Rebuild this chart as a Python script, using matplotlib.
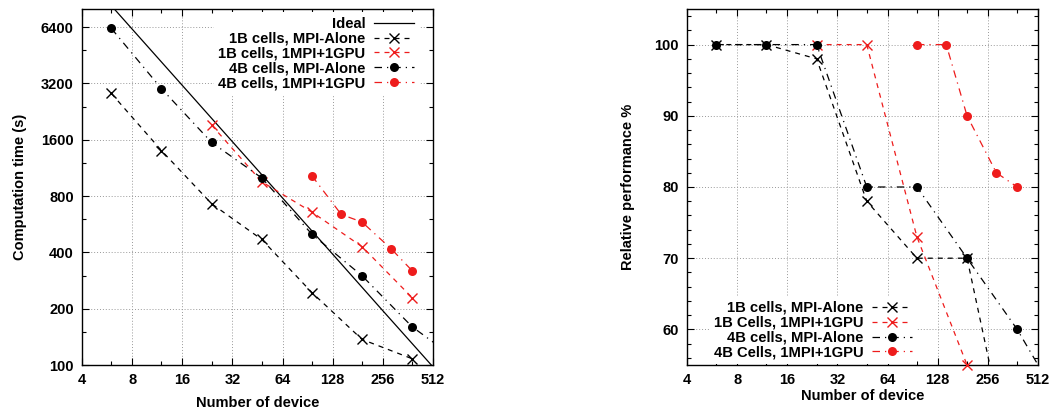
import numpy as np
import matplotlib
matplotlib.use("Agg")
import matplotlib.pyplot as plt
from matplotlib.ticker import FixedLocator, NullFormatter

plt.rcParams['font.family'] = ['Liberation Sans', 'DejaVu Sans']
plt.rcParams['font.weight'] = 'bold'
plt.rcParams['font.size'] = 10

# ---------------- data ----------------
xticks = [4, 8, 16, 32, 64, 128, 256, 512]

# left: computation time (s)
ideal_x = [4, 8, 16, 32, 64, 128, 256, 512]
ideal_y = [12500, 6250, 3125, 1562, 781, 391, 195, 97.7]

mpi1b_x = [6, 12, 24, 48, 96, 192, 384]
mpi1b_t = [2830, 1400, 728, 469, 244, 137, 108]

gpu1b_x = [24, 48, 96, 192, 384]
gpu1b_t = [1916, 954, 657, 429, 229]

mpi4b_x = [6, 12, 24, 48, 96, 192, 384, 768]
mpi4b_t = [6300, 3000, 1548, 1000, 500, 300, 160, 102]

gpu4b_x = [96, 144, 192, 288, 384]
gpu4b_t = [1027, 638, 581, 417, 319]

# right: relative performance %
mpi1b_p = [100, 100, 98, 78, 70, 70, 37]
gpu1b_p = [100, 100, 73, 55, 52]
mpi4b_p = [100, 100, 100, 80, 80, 70, 60, 48]
gpu4b_p = [100, 100, 90, 82, 80]

RED = '#ee1c1c'
DASH = (0, (4, 4))
DASHDOT = (0, (6, 4, 1, 4))

styles = {
  'mpi1b': dict(color='black', ls=DASH, marker='x', ms=6.5, mew=1.0),
  'gpu1b': dict(color=RED, ls=DASH, marker='x', ms=6.5, mew=1.0),
  'mpi4b': dict(color='black', ls=DASHDOT, marker='o', ms=6.5, mew=0),
  'gpu4b': dict(color=RED, ls=DASHDOT, marker='o', ms=6.5, mew=0),
}

def series(ax, x, y, st, label, ylim):
  """ line clipped at the border, markers drawn whole when inside the range """
  ax.plot(x, y, color=st['color'], ls=st['ls'], lw=0.9)
  xs = [a for a, b in zip(x, y) if a <= 512 and ylim[0] <= b <= ylim[1]]
  ys = [b for a, b in zip(x, y) if a <= 512 and ylim[0] <= b <= ylim[1]]
  ax.plot(xs, ys, ls='none', marker=st['marker'], ms=st['ms'], mew=st['mew'],
          color=st['color'], clip_on=False, zorder=4)
  # proxy for the legend
  h, = ax.plot([], [], color=st['color'], ls=st['ls'], lw=0.9, marker=st['marker'],
               ms=st['ms'], mew=st['mew'], label=label)
  return h

def style_axes(ax):
  ax.set_xscale('log', base=2)
  ax.set_xlim(4, 512)
  ax.xaxis.set_major_locator(FixedLocator(xticks))
  ax.xaxis.set_minor_locator(FixedLocator([t * 1.5 for t in xticks[:-1]]))
  ax.set_xticklabels([str(t) for t in xticks])
  ax.xaxis.set_minor_formatter(NullFormatter())
  ax.tick_params(which='both', direction='in', top=True, right=True, labelsize=10.5)
  ax.tick_params(which='major', length=5, width=0.8, pad=6)
  ax.tick_params(which='minor', length=3, width=0.8)
  ax.grid(which='major', color='#999999', ls=(0, (1, 2)), lw=0.7)
  for sp in ax.spines.values():
    sp.set_linewidth(1.0)
  ax.set_xlabel('Number of device', fontsize=10.5, fontweight='bold')

def legend(ax, handles, loc, anchor):
  leg = ax.legend(handles=handles, loc=loc, bbox_to_anchor=anchor,
                  markerfirst=False, numpoints=1, handlelength=2.7,
                  handletextpad=0.6, labelspacing=0.06, borderpad=0.3,
                  frameon=True, fancybox=False, fontsize=10.6)
  leg.get_frame().set_edgecolor('none')
  leg.get_frame().set_facecolor('white')
  leg.get_frame().set_alpha(1)
  leg._legend_box.align = 'right'
  return leg

fig = plt.figure(figsize=(10.62, 4.11), dpi=100)
ax1 = fig.add_axes([82 / 1062, 46 / 411, 351 / 1062, 356 / 411])
ax2 = fig.add_axes([687 / 1062, 46 / 411, 351 / 1062, 356 / 411])

# ---------------- left ----------------
ylim1 = (100, 8000)
hi, = ax1.plot(ideal_x, ideal_y, color='black', lw=0.9, label='Ideal')
h1 = series(ax1, mpi1b_x, mpi1b_t, styles['mpi1b'], '1B cells, MPI-Alone', ylim1)
h2 = series(ax1, gpu1b_x, gpu1b_t, styles['gpu1b'], '1B cells, 1MPI+1GPU', ylim1)
h3 = series(ax1, mpi4b_x, mpi4b_t, styles['mpi4b'], '4B cells, MPI-Alone', ylim1)
h4 = series(ax1, gpu4b_x, gpu4b_t, styles['gpu4b'], '4B cells, 1MPI+1GPU', ylim1)
style_axes(ax1)
ax1.set_yscale('log', base=2)
ax1.set_ylim(*ylim1)
yt = [100, 200, 400, 800, 1600, 3200, 6400]
ax1.yaxis.set_major_locator(FixedLocator(yt))
ax1.yaxis.set_minor_locator(FixedLocator([t * 1.5 for t in yt]))
ax1.set_yticklabels([str(t) for t in yt])
ax1.yaxis.set_minor_formatter(NullFormatter())
ax1.set_ylabel('Computation time (s)', fontsize=10.5, fontweight='bold', labelpad=10)
ax1.xaxis.labelpad = 6
legend(ax1, [hi, h1, h2, h3, h4], 'upper right', (0.98, 1.011))

# ---------------- right ----------------
ylim2 = (55, 105)
g1 = series(ax2, mpi1b_x, mpi1b_p, styles['mpi1b'], '1B cells, MPI-Alone', ylim2)
g2 = series(ax2, gpu1b_x, gpu1b_p, styles['gpu1b'], '1B Cells, 1MPI+1GPU', ylim2)
g3 = series(ax2, mpi4b_x, mpi4b_p, styles['mpi4b'], '4B cells, MPI-Alone', ylim2)
g4 = series(ax2, gpu4b_x, gpu4b_p, styles['gpu4b'], '4B Cells, 1MPI+1GPU', ylim2)
style_axes(ax2)
ax2.set_ylim(*ylim2)
ax2.yaxis.set_major_locator(FixedLocator([60, 70, 80, 90, 100]))
ax2.yaxis.set_minor_locator(FixedLocator(np.arange(56, 105, 2)))
ax2.set_ylabel('Relative performance %', fontsize=10.5, fontweight='bold', labelpad=14)
ax2.xaxis.labelpad = 1
legend(ax2, [g1, g2, g3, g4], 'lower right', (0.675, -0.018))

fig.savefig('out.png', dpi=100)
